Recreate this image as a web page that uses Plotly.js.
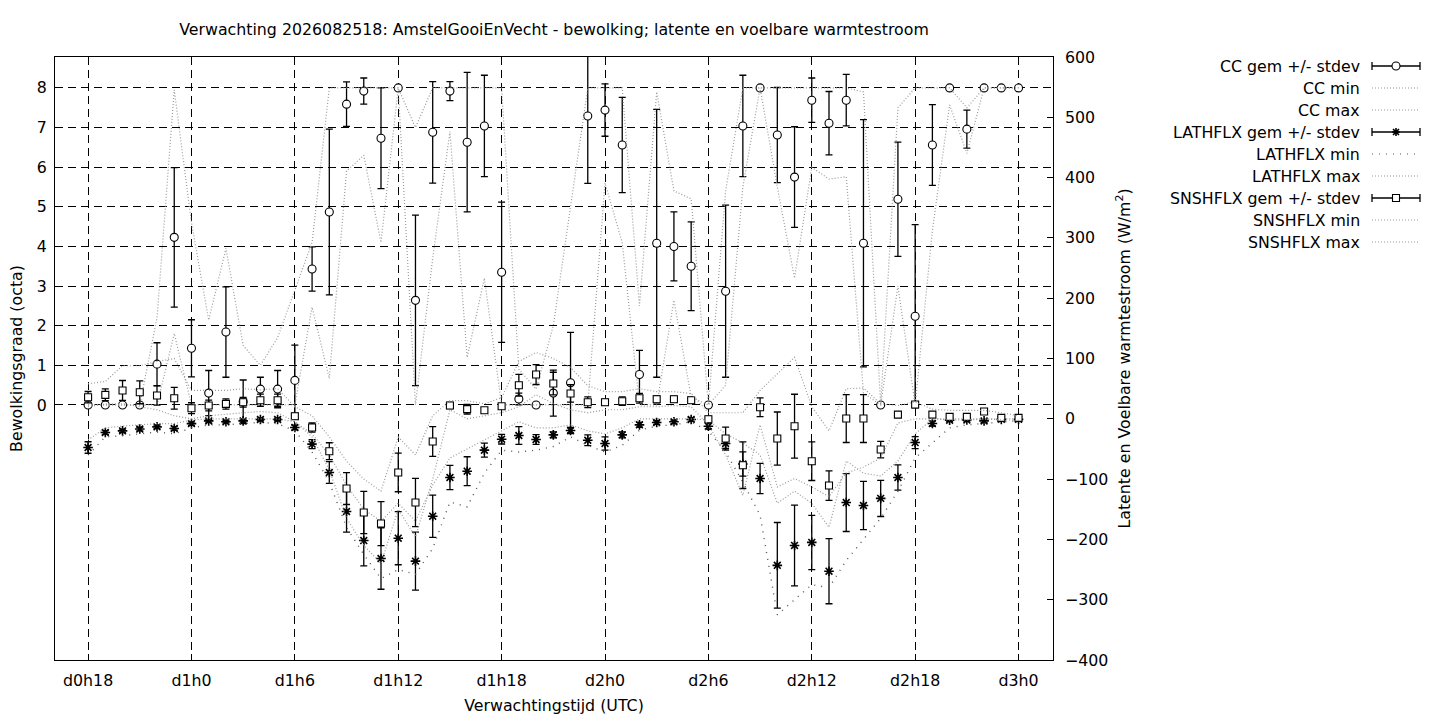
<!DOCTYPE html>
<html>
<head>
<meta charset="utf-8">
<script src="https://cdn.plot.ly/plotly-3.0.1.min.js"></script>
<style>
  html, body { margin: 0; padding: 0; background: #fff; }
  #chart { width: 1440px; height: 720px; }
</style>
</head>
<body>
<div id="chart"></div>
<script>
"use strict";

// Forecast hours (d0h18 .. d3h0)
const hours = [18, 19, 20, 21, 22, 23, 24, 25, 26, 27, 28, 29, 30, 31, 32, 33, 34, 35, 36, 37,
  38, 39, 40, 41, 42, 43, 44, 45, 46, 47, 48, 49, 50, 51, 52, 53, 54, 55, 56, 57,
  58, 59, 60, 61, 62, 63, 64, 65, 66, 67, 68, 69, 70, 71, 72];

const tickHours = [18, 24, 30, 36, 42, 48, 54, 60, 66, 72];
const tickLabels = ["d0h18", "d1h0", "d1h6", "d1h12", "d1h18", "d2h0", "d2h6", "d2h12", "d2h18", "d3h0"];

// Bewolking (octa)
const ccMean = [0, 0, 0, 0, 1.03, 4.23, 1.43, 0.30, 1.84, 0.08, 0.40, 0.40, 0.62, 3.43, 4.87, 7.59, 7.92, 6.73, 8.0, 2.64,
  6.88, 7.92, 6.63, 7.04, 3.35, 0.15, 0, 0.30, 0.56, 7.29, 7.44, 6.56, 0.77, 4.08, 4.00, 3.50, 0, 2.87, 7.04, 8.0,
  6.81, 5.75, 7.69, 7.11, 7.69, 4.08, 0, 5.19, 2.24, 6.56, 8.0, 6.96, 8.0, 8.0, 8.0];
const ccSd = [0, 0, 0, 0, 0.54, 1.76, 0.72, 0.57, 1.14, 0.55, 0.30, 0.47, 0.89, 0.56, 2.09, 0.56, 0.33, 1.27, 0, 2.15,
  1.28, 0.24, 1.76, 1.28, 1.77, 0.15, 0, 0.58, 1.27, 1.70, 0.66, 1.20, 0.61, 3.38, 0.87, 1.12, 0, 2.17, 1.28, 0,
  1.20, 1.27, 0.56, 0.80, 0.65, 3.12, 0, 1.44, 2.31, 1.02, 0.05, 0.48, 0, 0, 0];
const ccMin = [0, 0, 0, 0, 0, 1.8, 0, 0, 0, 0, 0, 0, 0, 2.47, 0.67, 5.9, 6.3, 4.1, 8.0, 0,
  3.7, 6.9, 1.2, 3.2, 0, 0, 0, 0, 0, 0, 5.6, 4.1, 0, 0, 2.64, 0.2, 0, 0.5, 5.5, 8.0,
  5.5, 3.2, 6.0, 5.7, 5.76, 0.3, 0, 3.0, 0, 4.4, 7.57, 6.35, 8.0, 8.0, 8.0];
const ccMax = [0, 0, 0, 0, 2.2, 7.95, 4.6, 2.14, 3.95, 1.5, 1.0, 1.7, 2.9, 4.1, 8.0, 8.0, 8.0, 8.0, 8.0, 7.0,
  8.0, 8.0, 8.0, 8.0, 8.0, 0.9, 0.4, 2.0, 5.0, 8.0, 8.0, 8.0, 2.5, 7.9, 5.4, 5.2, 0, 5.4, 8.0, 8.0,
  8.0, 8.0, 8.0, 8.0, 8.0, 7.9, 0, 7.5, 8.0, 8.0, 8.0, 7.5, 8.0, 8.0, 8.0];

// Latente warmtestroom (W/m2)
const lathMean = [-47.6, -22.7, -20, -17, -13.4, -16, -8, -3.5, -5, -3.5, -1.2, -1.2, -14.5, -42, -89, -153.8, -201.9, -231.7, -198, -236,
  -161.5, -97.4, -86.9, -52, -33.8, -27.7, -34.4, -26.7, -19.4, -35.5, -41, -26.7, -10, -6.2, -5, -1.2, -12.3, -41, -75, -99,
  -243, -210, -205, -252.7, -138.9, -143.8, -132, -97.4, -39.4, -7.9, -2.3, -2, -3.5, -1, -1];
const lathSd = [9.5, 3, 3, 3, 3, 3, 3, 2, 2, 2, 2, 2, 4, 7.5, 18, 34, 42, 51, 44, 48,
  35, 20, 24, 11.6, 8, 14.6, 8, 5, 5, 9, 11, 5, 4, 3, 3, 3, 5, 8, 20, 25,
  71, 67, 45, 54, 48, 40, 30, 21, 10, 4, 2, 2, 3, 2, 2];
const lathMin = [-60, -30, -28, -25, -22, -25, -15, -10, -10, -8, -6, -8, -20, -55, -105, -180, -225, -265, -250, -258,
  -215, -138, -146, -90, -52, -55, -52, -46, -30, -44, -55, -44, -19, -12, -10, -5, -20, -55, -105, -160,
  -325, -300, -275, -280, -235, -200, -165, -120, -65, -40, -15, -10, -8, -5, -3];
const lathMax = [-35, -15, -12, -10, -8, -8, -2, 0, 0, 0, 0, 0, -5, -25, -60, -110, -150, -170, -140, -170,
  -110, -65, -50, -35, -20, -5, -15, -15, -10, -20, -25, -15, 0, 0, 0, 0, -2, -25, -40, -60,
  -140, -120, -140, -180, -70, -90, -95, -70, -25, 0, 0, 0, 0, 0, 0];

// Voelbare warmtestroom (W/m2)
const snshMean = [35.8, 39.7, 47, 44, 38.6, 34, 17.6, 22, 24.7, 27.5, 30.8, 30.8, 4.3, -14.5, -53.7, -115.6, -155.4, -173.7, -89, -138.9,
  -37.7, 22, 16, 14.3, 20.9, 55.7, 73.4, 58.5, 42, 27.5, 27.5, 29.2, 34, 32.5, 32.5, 30.8, -0.7, -32.7, -77, 19.2,
  -32.7, -12.3, -70.3, -110.7, 0.4, 0.4, -51, 7, 23.7, 7, 3.2, 3.2, 12, 1.6, 1.6];
const snshSd = [9.5, 9.8, 16.5, 19, 16, 18, 9, 9, 8.5, 8, 10, 10, 5, 7.5, 14, 26.5, 35, 36.5, 32, 40,
  24.6, 5, 8, 4, 4, 18, 16.5, 18.7, 14.5, 9, 5, 7, 8, 6, 5, 5, 5, 19, 38.6, 15.5,
  44, 53, 32, 24.5, 39.7, 39.7, 13.7, 4, 4, 4, 3, 3, 4, 2, 2];
const snshMin = [20, 25, 25, 20, 15, 5, 0, 5, 8, 10, 12, 10, -5, -30, -85, -165, -210, -240, -150, -196,
  -100, 15, 0, 5, 10, 20, 40, 25, 15, 10, 15, 15, 20, 20, 22, 20, -10, -60, -127, -10,
  -113, -99, -113, -129, -90, -80, -65, -7, 0, 0, -2, -2, 0, -2, -2];
const snshMax = [58, 62, 88, 88, 95, 100, 47, 47, 47, 50, 48, 50, 20, 5, -30, -70, -100, -120, -30, -60,
  5, 30, 30, 25, 35, 95, 110, 100, 85, 55, 45, 45, 50, 45, 45, 42, 10, 10, 10, 47,
  75, 102, 20, -20, 50, 51, 25, 22, 28, 16, 14, 14, 14, 10, 5];

const FONT = "'DejaVu Sans', 'Liberation Sans', sans-serif";
const FS = 15.8;
const GREY = "#9a9a9a";

/* ── Traces ──────────────────────────────────────────────────────────── */
function meanTrace(y, sd, symbol, size, axis) {
  const open = symbol === "asterisk-open";
  return {
    type: "scatter",
    mode: "markers",
    x: hours,
    y: y,
    yaxis: axis,
    marker: {
      symbol: symbol,
      size: size,
      color: open ? "#000" : "#fff",
      line: { color: "#000", width: open ? 1.6 : 1.1 },
    },
    error_y: { type: "data", array: sd, visible: true, color: "#000", thickness: 1.3, width: 3.5 },
    hoverinfo: "skip",
  };
}

function lineTrace(y, color, dash, width, axis) {
  return {
    type: "scatter",
    mode: "lines",
    x: hours,
    y: y,
    yaxis: axis,
    line: { color: color, dash: dash, width: width },
    hoverinfo: "skip",
  };
}

const LEGEND = [
  { name: "CC gem +/- stdev", kind: "err", sym: "circle" },
  { name: "CC min", kind: "line", color: GREY, dash: "1px,2px" },
  { name: "CC max", kind: "line", color: GREY, dash: "1px,2px" },
  { name: "LATHFLX gem +/- stdev", kind: "err", sym: "asterisk" },
  { name: "LATHFLX min", kind: "line", color: "#555", dash: "1px,6px" },
  { name: "LATHFLX max", kind: "line", color: GREY, dash: "1px,2px" },
  { name: "SNSHFLX gem +/- stdev", kind: "err", sym: "square" },
  { name: "SNSHFLX min", kind: "line", color: GREY, dash: "1px,2px" },
  { name: "SNSHFLX max", kind: "line", color: GREY, dash: "1px,2px" },
];

const traces = [
  meanTrace(ccMean, ccSd, "circle", 8, "y"),
  lineTrace(ccMin, GREY, LEGEND[1].dash, 1.2, "y"),
  lineTrace(ccMax, GREY, LEGEND[2].dash, 1.2, "y"),
  meanTrace(lathMean, lathSd, "asterisk-open", 8, "y2"),
  lineTrace(lathMin, "#555", LEGEND[4].dash, 1.4, "y2"),
  lineTrace(lathMax, GREY, LEGEND[5].dash, 1.2, "y2"),
  meanTrace(snshMean, snshSd, "square", 7, "y2"),
  lineTrace(snshMin, GREY, LEGEND[7].dash, 1.2, "y2"),
  lineTrace(snshMax, GREY, LEGEND[8].dash, 1.2, "y2"),
];

/* ── Custom legend (text left, sample right, like gnuplot) ───────────── */
const PLOT_L = 55, PLOT_R = 1053, PLOT_T = 57, PLOT_B = 660;
const px2x = (px) => (px - PLOT_L) / (PLOT_R - PLOT_L);
const px2y = (py) => (PLOT_B - py) / (PLOT_B - PLOT_T);

const shapes = [];
const annotations = [];
LEGEND.forEach((e, i) => {
  const yp = px2y(66 + i * 22);
  annotations.push({
    xref: "paper", yref: "paper", x: px2x(1362), y: yp,
    text: e.name, showarrow: false, xanchor: "right", yanchor: "middle",
    font: { family: FONT, size: FS, color: "#000" },
  });
  if (e.kind === "line") {
    shapes.push({
      type: "line", xref: "paper", yref: "paper",
      x0: px2x(1372), x1: px2x(1420), y0: yp, y1: yp,
      line: { color: e.color, width: 1.2, dash: e.dash },
    });
    return;
  }
  shapes.push({
    type: "line", xref: "paper", yref: "paper",
    x0: px2x(1372), x1: px2x(1420), y0: yp, y1: yp,
    line: { color: "#000", width: 1.3 },
  });
  [1372, 1420].forEach((cx) => {
    shapes.push({
      type: "line", xref: "paper", yref: "paper",
      xsizemode: "pixel", xanchor: px2x(cx), x0: 0, x1: 0,
      ysizemode: "pixel", yanchor: yp, y0: -4, y1: 4,
      line: { color: "#000", width: 1.3 },
    });
  });
  const mk = { xref: "paper", yref: "paper", xsizemode: "pixel", ysizemode: "pixel",
    xanchor: px2x(1396), yanchor: yp };
  if (e.sym === "circle") {
    shapes.push({ ...mk, type: "circle", x0: -4, x1: 4, y0: -4, y1: 4,
      fillcolor: "#fff", line: { color: "#000", width: 1.1 } });
  } else if (e.sym === "square") {
    shapes.push({ ...mk, type: "rect", x0: -3.5, x1: 3.5, y0: -3.5, y1: 3.5,
      fillcolor: "#fff", line: { color: "#000", width: 1.1 } });
  } else {
    shapes.push({ ...mk, type: "path",
      path: "M-4,0L4,0M0,-4L0,4M-3,-3L3,3M-3,3L3,-3",
      line: { color: "#000", width: 1.6 } });
  }
});

/* ── Layout ──────────────────────────────────────────────────────────── */
const layout = {
  width: 1440,
  height: 720,
  paper_bgcolor: "#fff",
  plot_bgcolor: "#fff",
  font: { family: FONT, size: FS, color: "#000" },
  showlegend: false,
  margin: { l: PLOT_L, r: 1440 - PLOT_R, t: PLOT_T, b: 720 - PLOT_B, pad: 0 },
  title: {
    text: "Verwachting 2026082518: AmstelGooiEnVecht - bewolking; latente en voelbare warmtestroom",
    font: { family: FONT, size: FS, color: "#000" },
    xref: "paper", x: 0.5, xanchor: "center",
    yref: "container", y: 1 - 29 / 720, yanchor: "middle",
  },
  xaxis: {
    range: [16.08, 74.0],
    tickmode: "array",
    tickvals: tickHours,
    ticktext: tickLabels,
    ticks: "inside", ticklen: 6, tickcolor: "#000",
    ticklabelstandoff: 6,
    showline: true, linecolor: "#000", linewidth: 1, mirror: "ticks",
    showgrid: true, gridcolor: "#000", gridwidth: 1, griddash: "8px,5px",
    zeroline: false,
    tickfont: { family: FONT, size: FS },
    title: { text: "Verwachtingstijd (UTC)", font: { family: FONT, size: FS }, standoff: 10 },
  },
  yaxis: {
    range: [-6.435, 8.78],
    tickmode: "array",
    tickvals: [0, 1, 2, 3, 4, 5, 6, 7, 8],
    ticks: "inside", ticklen: 6, tickcolor: "#000",
    ticklabelstandoff: 4,
    showline: true, linecolor: "#000", linewidth: 1, mirror: true,
    showgrid: true, gridcolor: "#000", gridwidth: 1, griddash: "8px,5px",
    zeroline: false,
    tickfont: { family: FONT, size: FS },
    title: { text: "Bewolkingsgraad (octa)", font: { family: FONT, size: FS }, standoff: 10 },
  },
  yaxis2: {
    overlaying: "y",
    side: "right",
    range: [-400, 600],
    tickmode: "linear", tick0: 0, dtick: 100,
    ticks: "inside", ticklen: 6, tickcolor: "#000",
    ticklabelstandoff: 11,
    showline: false, showgrid: false, zeroline: false,
    tickfont: { family: FONT, size: FS },
    title: { text: "Latente en Voelbare warmtestroom (W/m<sup>2</sup>)", font: { family: FONT, size: FS }, standoff: 11 },
  },
  shapes: shapes,
  annotations: annotations,
};

Plotly.newPlot("chart", traces, layout, { displayModeBar: false, staticPlot: true });
</script>
</body>
</html>
